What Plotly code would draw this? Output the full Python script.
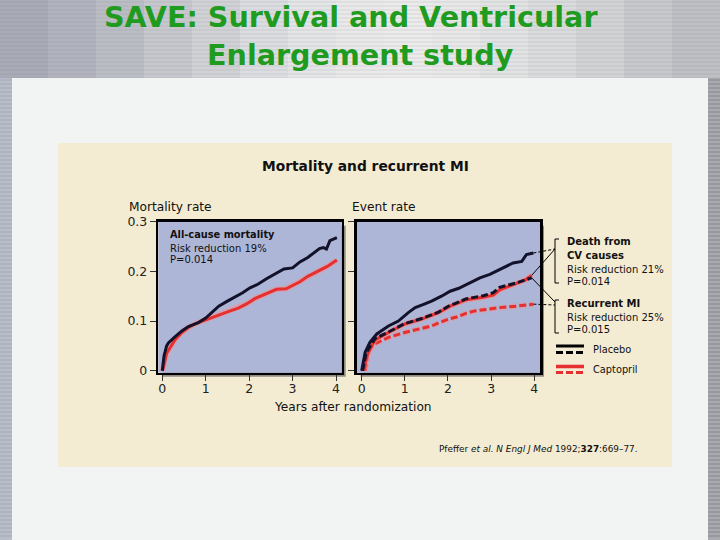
import plotly.graph_objects as go

W, H = 720, 540

# ---------------- data ----------------
years_ticks = [0, 1, 2, 3, 4]
rate_ticks = [0, 0.1, 0.2, 0.3]
rate_tick_labels = ["0", "0.1", "0.2", "0.3"]

# All-cause mortality
mort_placebo_t = [0, 0.04, 0.1, 0.14, 0.29, 0.45, 0.6, 0.83, 1.0, 1.15, 1.3, 1.5, 1.67, 1.85, 2.02, 2.2,
                  2.4, 2.6, 2.8, 3.0, 3.17, 3.35, 3.5, 3.62, 3.71, 3.78, 3.86, 3.95, 4.02]
mort_placebo_v = [0, 0.03, 0.05, 0.056, 0.068, 0.08, 0.089, 0.097, 0.106, 0.118, 0.13, 0.14, 0.148, 0.157,
                  0.167, 0.174, 0.185, 0.195, 0.205, 0.207, 0.219, 0.228, 0.237, 0.246, 0.248, 0.245,
                  0.262, 0.265, 0.268]
mort_capto_t = [0, 0.02, 0.1, 0.2, 0.29, 0.45, 0.6, 0.8, 0.98, 1.2, 1.37, 1.55, 1.75, 1.95, 2.13, 2.35,
                2.63, 2.85, 3.0, 3.17, 3.35, 3.56, 3.8, 4.02]
mort_capto_v = [0, 0.005, 0.035, 0.05, 0.062, 0.077, 0.087, 0.096, 0.102, 0.109, 0.114, 0.12, 0.126,
                0.135, 0.145, 0.153, 0.164, 0.165, 0.172, 0.179, 0.19, 0.199, 0.21, 0.223]

# Death from CV causes (solid) and recurrent MI (dashed)
cv_placebo_t = [0, 0.08, 0.19, 0.35, 0.62, 0.85, 1.08, 1.24, 1.45, 1.62, 1.85, 2.05, 2.25, 2.43, 2.6,
                2.74, 2.97, 3.2, 3.35, 3.51, 3.71, 3.82, 3.98]
cv_placebo_v = [0, 0.037, 0.057, 0.074, 0.09, 0.1, 0.117, 0.127, 0.134, 0.14, 0.15, 0.16, 0.166, 0.174,
                0.182, 0.187, 0.194, 0.204, 0.21, 0.217, 0.22, 0.234, 0.237]
cv_capto_t = [0.05, 0.12, 0.2, 0.31, 0.62, 1.0, 1.39, 1.78, 2.05, 2.16, 2.43, 2.82, 3.05, 3.2, 3.59,
              3.8, 3.94]
cv_capto_v = [0, 0.03, 0.045, 0.062, 0.077, 0.094, 0.104, 0.117, 0.13, 0.134, 0.143, 0.148, 0.152,
              0.163, 0.176, 0.183, 0.192]
mi_placebo_t = [0.02, 0.1, 0.2, 0.31, 0.62, 1.0, 1.39, 1.78, 2.05, 2.16, 2.43, 2.82, 3.05, 3.2, 3.59, 3.94]
mi_placebo_v = [0, 0.035, 0.05, 0.065, 0.078, 0.095, 0.105, 0.118, 0.132, 0.135, 0.145, 0.151, 0.157,
                0.168, 0.177, 0.187]
mi_capto_t = [0.08, 0.15, 0.27, 0.62, 1.0, 1.4, 1.62, 1.8, 2.05, 2.2, 2.43, 2.6, 2.82, 3.2, 3.59, 3.98]
mi_capto_v = [0, 0.037, 0.053, 0.067, 0.077, 0.085, 0.09, 0.097, 0.105, 0.108, 0.116, 0.12, 0.123,
              0.127, 0.13, 0.134]

# ---------------- layout geometry (pixels) ----------------
def PX(x):
    return x / W

def PY(y):
    return 1 - y / H

L1 = (158.3, 341.7)   # left panel x pixel extents
L2 = (356.7, 540.0)   # right panel
TOPB = (221.7, 372.7)  # top/bottom pixel
XR1 = [-0.092, 4.131]
XR2 = [-0.116, 4.133]
YR = [-0.004, 0.3]

def data_to_px(t, v, xl, xr):
    px = xl[0] + (t - xr[0]) / (xr[1] - xr[0]) * (xl[1] - xl[0])
    py = TOPB[1] - (v - YR[0]) / (YR[1] - YR[0]) * (TOPB[1] - TOPB[0])
    return px, py

BLACK = "#12122a"
RED = "#e5302f"
HALO = "rgba(245,140,140,0.55)"
FONT = "DejaVu Sans"

fig = go.Figure()

def add_line(t, v, ax, color, dash=None, halo=False):
    xa, ya = ("x", "y") if ax == 1 else ("x2", "y2")
    if halo:
        fig.add_trace(go.Scatter(x=t, y=v, xaxis=xa, yaxis=ya, mode="lines",
                                 line=dict(color=HALO, width=5.5, dash=dash), hoverinfo="skip"))
    fig.add_trace(go.Scatter(x=t, y=v, xaxis=xa, yaxis=ya, mode="lines",
                             line=dict(color=color, width=3, dash=dash)))

add_line(mort_capto_t, mort_capto_v, 1, RED, halo=True)
add_line(mort_placebo_t, mort_placebo_v, 1, BLACK)
add_line(mi_capto_t, mi_capto_v, 2, RED, dash="7px,3px", halo=True)
add_line(cv_capto_t, cv_capto_v, 2, RED, halo=True)
add_line(mi_placebo_t, mi_placebo_v, 2, BLACK, dash="7px,3px")
add_line(cv_placebo_t, cv_placebo_v, 2, BLACK)

axis_common = dict(showgrid=False, zeroline=False, showline=True, linecolor="black", linewidth=2.5,
                   mirror=True, ticks="outside", ticklen=6, tickwidth=1, tickcolor="#333",
                   automargin=False,
                   tickfont=dict(family=FONT, size=12.5, color="#222"))

fig.update_layout(
    width=W, height=H, margin=dict(l=0, r=0, t=0, b=0, pad=0, autoexpand=False),
    paper_bgcolor="#d6d7dc", plot_bgcolor="rgba(0,0,0,0)", showlegend=False,
    xaxis=dict(domain=[PX(L1[0]), PX(L1[1])], range=XR1, tickvals=years_ticks, anchor="y",
               ticklabelstandoff=-3, **axis_common),
    yaxis=dict(domain=[PY(TOPB[1]), PY(TOPB[0])], range=YR, tickvals=rate_ticks,
               ticktext=rate_tick_labels, anchor="x", **axis_common),
    xaxis2=dict(domain=[PX(L2[0]), PX(L2[1])], range=XR2, tickvals=years_ticks, anchor="y2",
                ticklabelstandoff=-3, **axis_common),
    yaxis2=dict(domain=[PY(TOPB[1]), PY(TOPB[0])], range=YR, tickvals=rate_ticks,
                showticklabels=False, anchor="x2", **axis_common),
)

shapes = []

def rect(x0, y0, x1, y1, color, layer="below", line=None):
    shapes.append(dict(type="rect", xref="paper", yref="paper", x0=PX(x0), x1=PX(x1), y0=PY(y1), y1=PY(y0),
                       fillcolor=color, line=line or dict(width=0), layer=layer))

def seg(x0, y0, x1, y1, color="black", width=1, dash=None, layer="above"):
    d = dict(type="line", xref="paper", yref="paper", x0=PX(x0), x1=PX(x1), y0=PY(y0), y1=PY(y1),
             line=dict(color=color, width=width), layer=layer)
    if dash:
        d["line"]["dash"] = dash
    shapes.append(d)

# top title band: horizontal gradient
band_cols = ["#a9abb6", "#b1b3bd", "#bbbdc5", "#c6c8ce", "#d1d2d6", "#dcdde0", "#e4e5e6", "#e9e9ea",
             "#ebebeb", "#e8e8e8", "#e2e3e3", "#dadbdc", "#d2d3d5", "#c8c9cc", "#bfc0c4"]
n = len(band_cols)
for i, c in enumerate(band_cols):
    rect(i * W / n, 0, (i + 1) * W / n + 1, 80, c)
for yy in range(2, 80, 4):
    seg(0, yy, W, yy, color="rgba(120,120,135,0.12)", width=1.5, layer="below")
# side strips
rect(0, 78, 12, 540, "#b9bdc8")
rect(708, 78, 720, 540, "#a8aab0")
for yy in range(80, 540, 4):
    seg(0, yy, 12, yy, color="rgba(100,100,120,0.15)", width=1.5, layer="below")
    seg(708, yy, 720, yy, color="rgba(60,60,70,0.2)", width=1.5, layer="below")
# white slide area
rect(12, 78, 708, 540, "#f2f4f3")
# beige figure area
rect(58, 143, 672, 467, "#f4ecd2")
# panel shadows and fills
for (xl, xr) in (L1, L2):
    rect(xl + 4, TOPB[0] + 4, xr + 4, TOPB[1] + 4, "#8f8d86")
    rect(xl, TOPB[0], xr, TOPB[1], "#aeb6d8")

# brackets
def bracket(x, y0, y1):
    seg(x, y0, x + 4, y0)
    seg(x, y0, x, y1)
    seg(x, y1, x + 4, y1)

bracket(555, 239, 283)
bracket(555, 300, 333)

# leader lines from curve ends (via the axis scale) to the brackets
pe = data_to_px(cv_placebo_t[-1], cv_placebo_v[-1], L2, XR2)
ce = data_to_px(cv_capto_t[-1], cv_capto_v[-1], L2, XR2)
me = data_to_px(mi_placebo_t[-1], mi_placebo_v[-1], L2, XR2)
re = data_to_px(mi_capto_t[-1], mi_capto_v[-1], L2, XR2)
seg(pe[0], pe[1], 555, 249, dash="3px,2px")
seg(ce[0], ce[1], 555, 249)
seg(me[0], me[1], 555, 302)
seg(re[0], re[1], 555, 305, dash="3px,2px")

# legend glyphs
seg(556, 346, 584, 346, color="black", width=3)
seg(556, 352.5, 584, 352.5, color="black", width=3, dash="7px,3px")
seg(556, 366.5, 584, 366.5, color=HALO, width=5)
seg(556, 366.5, 584, 366.5, color=RED, width=3)
seg(556, 372.5, 584, 372.5, color=RED, width=3, dash="7px,3px")

fig.update_layout(shapes=shapes)

ann = []

def text(x, y, s, size, color="#111", xanchor="left", bold=False):
    if bold:
        s = "<b>" + s + "</b>"
    ann.append(dict(x=PX(x), y=PY(y), xref="paper", yref="paper", text=s, showarrow=False,
                    xanchor=xanchor, yanchor="middle", font=dict(family=FONT, size=size, color=color)))

GREEN = "#1f9b1f"
text(351, 17, "SAVE: Survival and Ventricular", 28.6, GREEN, "center", True)
text(360, 55, "Enlargement study", 28.6, GREEN, "center", True)
text(365, 166, "Mortality and recurrent MI", 13.8, "#111", "center", True)
text(127, 207, "Mortality rate", 12.2)
text(350, 207, "Event rate", 12.2)
text(272, 407, "Years after randomization", 12.2)
text(168, 234, "All-cause mortality", 9.8, bold=True)
text(168, 248, "Risk reduction 19%", 10)
text(168, 260, "P=0.014", 10)
text(565, 241, "Death from", 10, bold=True)
text(565, 255, "CV causes", 10, bold=True)
text(565, 269, "Risk reduction 21%", 10)
text(565, 281, "P=0.014", 10)
text(565, 303, "Recurrent MI", 10, bold=True)
text(565, 317, "Risk reduction 25%", 10)
text(565, 329, "P=0.015", 10)
text(591, 349, "Placebo", 9.8)
text(591, 369, "Captopril", 9.8)
text(640, 449, "Pfeffer <i>et al.</i> <i>N Engl J Med</i> 1992;<b>327</b>:669–77.", 8.9, xanchor="right")

fig.update_layout(annotations=ann)

fig.write_html("out.html", config={"displayModeBar": False, "staticPlot": True},
               post_script="document.body.style.margin='0';document.body.style.padding='0';"
                           "document.documentElement.style.overflow='hidden';"
                           "var gd=document.getElementById('{plot_id}');"
                           "gd.style.position='fixed';gd.style.top='0px';gd.style.left='0px';")
